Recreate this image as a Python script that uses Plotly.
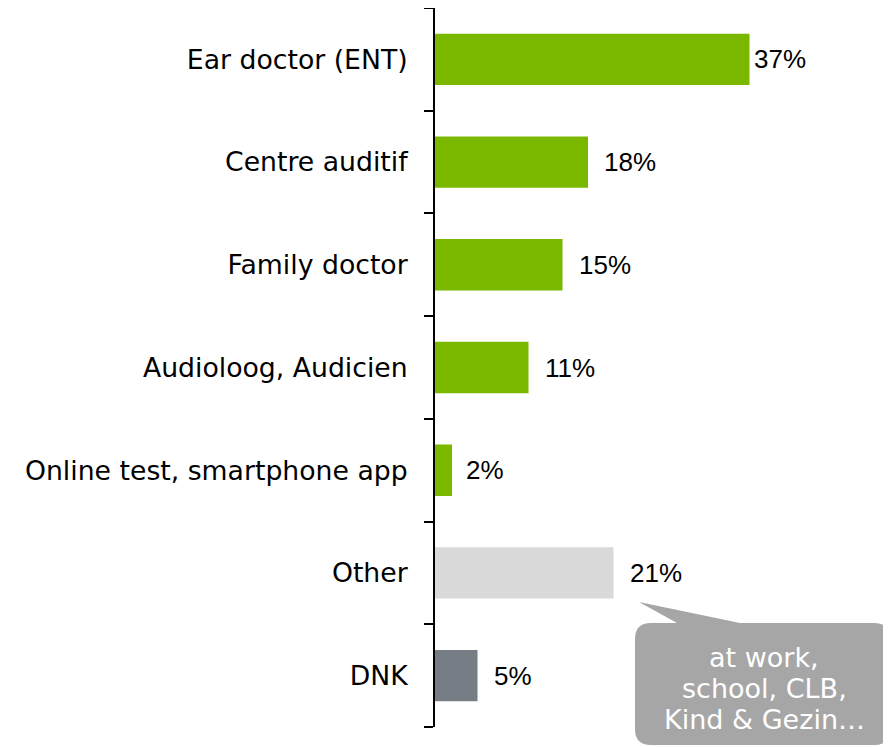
import plotly.graph_objects as go

# Chart data (top to bottom)
categories = ["Ear doctor (ENT)", "Centre auditif", "Family doctor", "Audioloog, Audicien",
              "Online test, smartphone app", "Other", "DNK"]
values = [37, 18, 15, 11, 2, 21, 5]
bar_colors = ["#7AB800", "#7AB800", "#7AB800", "#7AB800", "#7AB800", "#D9D9D9", "#767D84"]
label_shift = [2, 14, 14, 14, 12, 14, 14]
callout_lines = ["at work,", "school, CLB,", "Kind & Gezin…"]

# page body adds an 8px margin, so figure pixels = picture pixels - 8
OFF = 8
W, H = 891, 747 - OFF
L, T = 435 - OFF, 8 - OFF
B = H - (727 - OFF)
R = W - L - 456

fig = go.Figure(go.Bar(
    x=values,
    y=categories,
    orientation="h",
    width=0.5,
    marker=dict(color=bar_colors, line=dict(width=0)),
    hoverinfo="skip",
))

# value labels next to bars
for cat, val, shift in zip(categories, values, label_shift):
    fig.add_annotation(
        x=val, y=cat, xref="x", yref="y",
        text=f"{val}%", showarrow=False,
        xanchor="left", yanchor="middle", xshift=shift,
        font=dict(family="Liberation Sans, Arial", size=26, color="#000000"),
    )

# callout bubble for "Other" (paper coords from picture pixel positions)
pw, ph = W - L - R, H - T - B


def px(x):
    return (x - OFF - L) / pw


def py(y):
    return (H - B - (y - OFF)) / ph


x0, x1, y0, y1, r = 635, 890, 623, 745, 16
tip = (639, 602)
base_l, base_r = 677, 740
pts = [
    f"M {px(x0 + r)},{py(y0)}",
    f"L {px(base_l)},{py(y0)}",
    f"L {px(tip[0])},{py(tip[1])}",
    f"L {px(base_r)},{py(y0)}",
    f"L {px(x1 - r)},{py(y0)}",
    f"Q {px(x1)},{py(y0)} {px(x1)},{py(y0 + r)}",
    f"L {px(x1)},{py(y1 - r)}",
    f"Q {px(x1)},{py(y1)} {px(x1 - r)},{py(y1)}",
    f"L {px(x0 + r)},{py(y1)}",
    f"Q {px(x0)},{py(y1)} {px(x0)},{py(y1 - r)}",
    f"L {px(x0)},{py(y0 + r)}",
    f"Q {px(x0)},{py(y0)} {px(x0 + r)},{py(y0)}",
    "Z",
]
fig.add_shape(type="path", xref="paper", yref="paper", path=" ".join(pts),
              fillcolor="#A6A6A6", line=dict(width=0), layer="above")
for i, line in enumerate(callout_lines):
    fig.add_annotation(
        x=px(764), y=py(657 + 31 * i), xref="paper", yref="paper",
        text=line, showarrow=False,
        xanchor="center", yanchor="middle", align="center",
        font=dict(family="DejaVu Sans, Verdana", size=27, color="#FFFFFF"),
    )

fig.update_layout(
    width=W, height=H,
    margin=dict(l=L, r=R, t=T, b=B),
    plot_bgcolor="white", paper_bgcolor="white",
    showlegend=False,
    xaxis=dict(range=[0, pw / 8.5], visible=False, fixedrange=True),
    yaxis=dict(
        type="category",
        categoryorder="array",
        categoryarray=categories[::-1],
        tickson="boundaries",
        ticks="outside", ticklen=9, tickwidth=2, tickcolor="#000000",
        showline=True, linecolor="#000000", linewidth=2,
        showgrid=False, zeroline=False,
        ticklabelstandoff=20,
        tickfont=dict(family="DejaVu Sans, Verdana", size=26.7, color="#000000"),
        fixedrange=True,
    ),
)

fig.write_html("out.html")
